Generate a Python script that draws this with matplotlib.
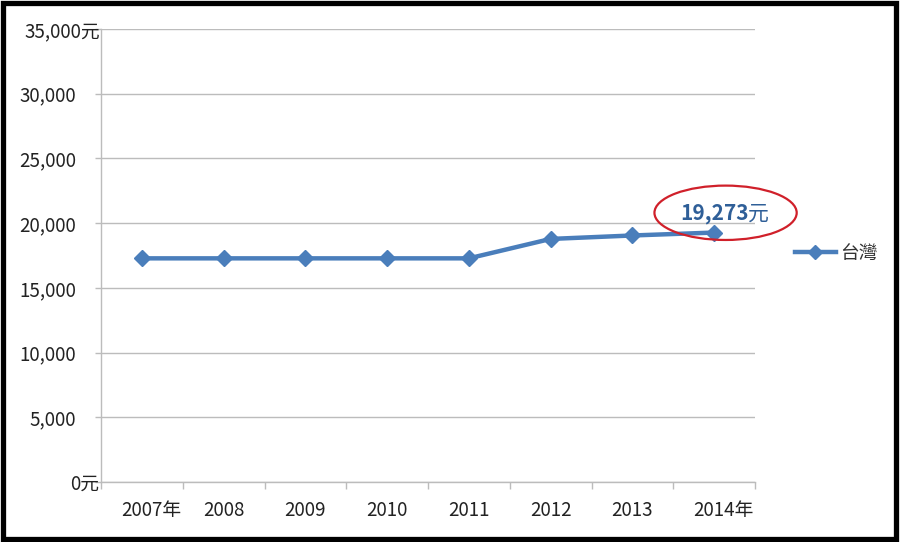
import matplotlib.pyplot as plt
from matplotlib.patches import Rectangle, Ellipse
from matplotlib.transforms import ScaledTranslation

plt.rcParams['font.family'] = ['Noto Sans CJK TC', 'DejaVu Sans']

# data
years = ['2007', '2008', '2009', '2010', '2011', '2012', '2013', '2014']
wage = [17280, 17280, 17280, 17280, 17280, 18780, 19047, 19273]
series_name = '台灣'
y_ticks = [0, 5000, 10000, 15000, 20000, 25000, 30000, 35000]
y_labels = ['0元', '5,000', '10,000', '15,000', '20,000', '25,000', '30,000', '35,000元']
callout = '19,273'

blue = '#4a7ebb'
grid_c = '#bcbcbc'

fig = plt.figure(figsize=(9, 5.42), dpi=100)
ax = fig.add_axes([101 / 900, 60 / 542, 654 / 900, 453 / 542])

x = list(range(len(years)))
ax.plot(x, wage, color=blue, lw=3.2, marker='D', markersize=8,
        label=series_name, zorder=3)

ax.set_xlim(-0.5, len(years) - 0.5)
ax.set_ylim(0, 35000)

# y axis
ax.set_yticks(y_ticks)
ax.set_yticklabels(y_labels, fontsize=13.5, color='#222222')
ax.yaxis.grid(True, color=grid_c, lw=1.0)
ax.tick_params(axis='y', length=4, color=grid_c, width=1.0)
for t, lab in zip(ax.yaxis.get_major_ticks(), y_labels):
    t.set_pad(-3 if lab.endswith('元') else 14)

# x axis: labels at category centers, ticks at boundaries
ax.set_xticks(x)
xl = [y + '年' if i in (0, len(years) - 1) else y for i, y in enumerate(years)]
ax.set_xticklabels(xl, fontsize=13.5, color='#222222')
ax.tick_params(axis='x', length=0, pad=13)
for lab in ax.get_xticklabels():
    if lab.get_text().endswith('年'):
        lab.set_horizontalalignment('left')
        lab.set_transform(lab.get_transform() + ScaledTranslation(-21 / 100, 0, fig.dpi_scale_trans))
ax.set_xticks([i - 0.5 for i in range(len(years) + 1)], minor=True)
ax.tick_params(axis='x', which='minor', length=5, color=grid_c, width=1.0)

for s in ['top', 'right']:
    ax.spines[s].set_visible(False)
for s in ['left', 'bottom']:
    ax.spines[s].set_color(grid_c)
    ax.spines[s].set_linewidth(1.0)

# callout
ax.text(x[-1] + 0.42, 20750, callout, fontsize=15, fontweight='bold',
        color='#2f5f98', ha='right', va='center')
ax.text(x[-1] + 0.42, 20750, '元', fontsize=15, color='#2f5f98',
        ha='left', va='center')
ax.add_patch(Ellipse((x[-1] + 0.14, 20800), 1.74, 4200, fill=False,
                     edgecolor='#d0202a', lw=1.6, zorder=4, clip_on=False))

leg = ax.legend(loc='center left', bbox_to_anchor=(1.035, 0.5055), frameon=False,
                fontsize=13.5, handlelength=2.2, handletextpad=0.2, markerscale=0.85)
for t in leg.get_texts():
    t.set_color('#333333')

# outer frame
fig.patches.append(Rectangle((2.5 / 900, 3 / 542), 893 / 900, 536 / 542,
                             transform=fig.transFigure, fill=False,
                             edgecolor='black', lw=3.8))

fig.savefig('out.png', dpi=100)
